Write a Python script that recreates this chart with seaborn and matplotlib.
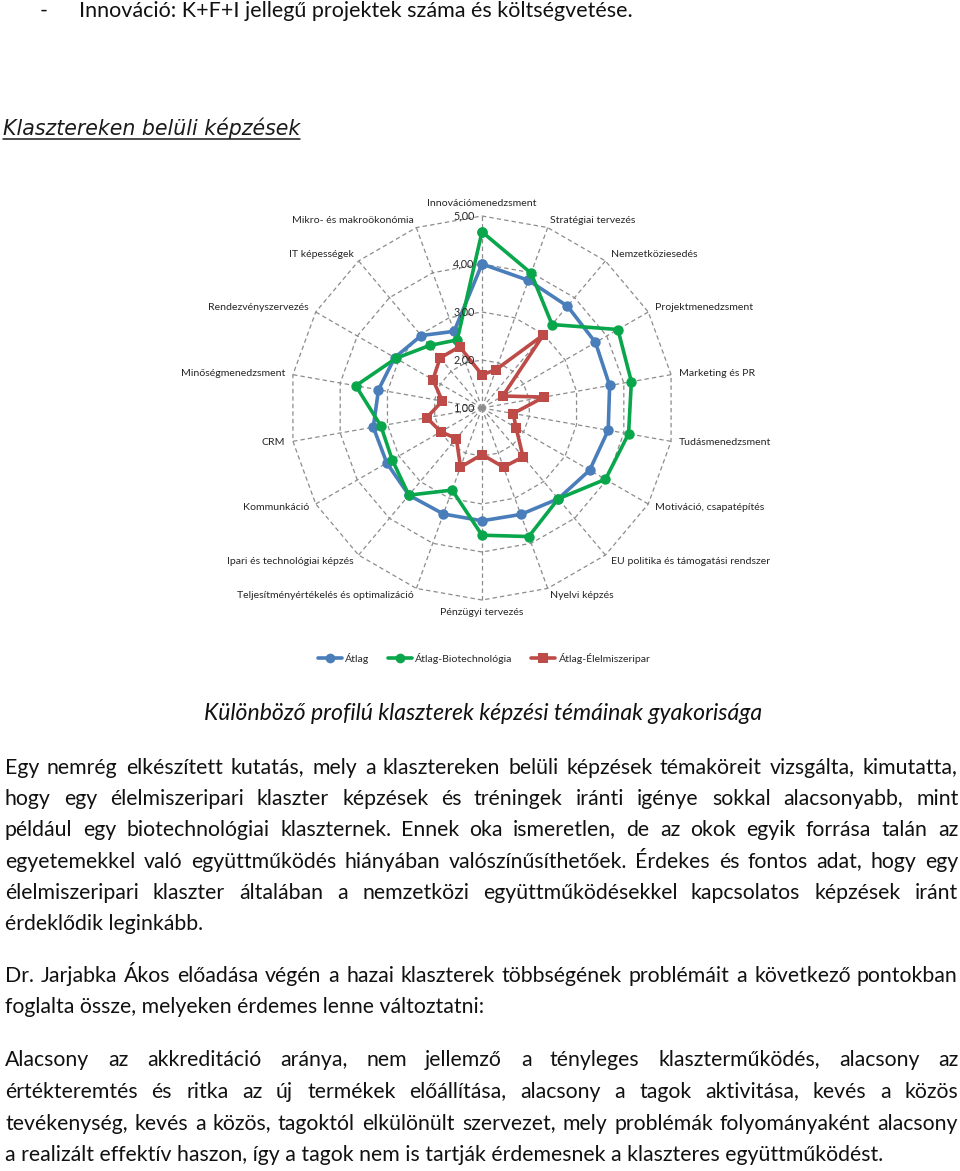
import math
import numpy as np
import pandas as pd
import matplotlib
matplotlib.use("Agg")
import matplotlib.pyplot as plt
import seaborn as sns
from matplotlib.font_manager import FontProperties
from matplotlib.lines import Line2D

try:
    from matplotlib.backends.backend_agg import get_hinting_flag
except Exception:  # pragma: no cover
    get_hinting_flag = None

sns.set_theme(style="white")
plt.rcParams["font.family"] = ["Lato", "DejaVu Sans"]

# ---------------- data ----------------
categories = [
    "Innovációmenedzsment", "Stratégiai tervezés", "Nemzetköziesedés",
    "Projektmenedzsment", "Marketing és PR", "Tudásmenedzsment",
    "Motiváció, csapatépítés", "EU politika és támogatási rendszer",
    "Nyelvi képzés", "Pénzügyi tervezés",
    "Teljesítményértékelés és optimalizáció", "Ipari és technológiai képzés",
    "Kommunkáció", "CRM", "Minőségmenedzsment", "Rendezvényszervezés",
    "IT képességek", "Mikro- és makroökonómia",
]
atlag = [4.00, 3.83, 3.77, 3.73, 3.70, 3.67, 3.59, 3.47, 3.36, 3.35,
         3.35, 3.37, 3.29, 3.30, 3.19, 3.10, 2.97, 2.70]
biotech = [4.67, 3.99, 3.27, 4.27, 4.16, 4.10, 3.97, 3.47, 3.85, 3.65,
           2.82, 3.37, 3.16, 3.14, 3.67, 3.07, 2.70, 2.51]
elelmiszer = [1.69, 1.85, 2.99, 1.50, 2.31, 1.66, 1.82, 2.33, 2.31, 1.97,
              2.31, 1.83, 1.99, 2.17, 1.84, 2.18, 2.36, 2.36]
series_names = ["Átlag", "Átlag-Biotechnológia", "Átlag-Élelmiszeripar"]
series_colors = ["#4A7EBB", "#0AA64C", "#BE4B48"]
series_markers = ["o", "o", "s"]
radial_ticks = [1, 2, 3, 4, 5]
radial_tick_labels = ["1,00", "2,00", "3,00", "4,00", "5,00"]

top_line = "Innováció: K+F+I jellegű projektek száma és költségvetése."
section_title = "Klasztereken belüli képzések"
caption = "Különböző profilú klaszterek képzési témáinak gyakorisága"
para1 = [
    "Egy nemrég elkészített kutatás, mely a klasztereken belüli képzések témaköreit vizsgálta, kimutatta,",
    "hogy egy élelmiszeripari klaszter képzések és tréningek iránti igénye sokkal alacsonyabb, mint",
    "például egy biotechnológiai klaszternek. Ennek oka ismeretlen, de az okok egyik forrása talán az",
    "egyetemekkel való együttműködés hiányában valószínűsíthetőek. Érdekes és fontos adat, hogy egy",
    "élelmiszeripari klaszter általában a nemzetközi együttműködésekkel kapcsolatos képzések iránt",
    "érdeklődik leginkább.",
]
para2 = [
    "Dr. Jarjabka Ákos előadása végén a hazai klaszterek többségének problémáit a következő pontokban",
    "foglalta össze, melyeken érdemes lenne változtatni:",
]
para3 = [
    "Alacsony az akkreditáció aránya, nem jellemző a tényleges klaszterműködés, alacsony az",
    "értékteremtés és ritka az új termékek előállítása, alacsony a tagok aktivitása, kevés a közös",
    "tevékenység, kevés a közös, tagoktól elkülönült szervezet, mely problémák folyományaként alacsony",
    "a realizált effektív haszon, így a tagok nem is tartják érdemesnek a klaszteres együttműködést.",
]

# ---------------- figure ----------------
W, H = 960, 1171
fig = plt.figure(figsize=(W / 100, H / 100), dpi=100)
fig.patch.set_facecolor("white")
renderer = fig.canvas.get_renderer()


def fx(x):
    return x / W


def fy(y):
    return 1 - y / H


body_fp = FontProperties(family=["Lato", "DejaVu Sans"])
ital_fp = FontProperties(family=["Lato", "DejaVu Sans"], style="italic")
title_fp = FontProperties(family=["DejaVu Sans"], style="italic")
small_fp = FontProperties(family=["Lato", "DejaVu Sans"])


def width_at(text, fp, size):
    t = fig.text(0, 0, text, fontproperties=fp, fontsize=size)
    w = t.get_window_extent(renderer).width
    t.remove()
    return w


def size_for_width(text, fp, target):
    return 10.0 * target / width_at(text, fp, 10.0)


def raster_baseline_error(textobj, yb):
    """Pixel error of the Agg raster baseline for this string (0 if unknown)."""
    if get_hinting_flag is None:
        return 0
    try:
        font = renderer._prepare_font(textobj.get_fontproperties())
        font.set_text(textobj.get_text(), 0, flags=get_hinting_flag())
        d_u = font.get_descent()
        _, h_u = font.get_width_height()
        ymax_u = h_u - d_u
        e = round(yb + d_u / 64.0) - yb - (h_u // 64) + math.floor(ymax_u / 64.0)
        return int(e) if abs(e) <= 3 else 0
    except Exception:
        return 0


X0, X1 = 5, 958
body_size = size_for_width(para3[-1], body_fp, 888)
justified = para1[:-1] + para2[:1] + para3[:-1]
maxw = max(width_at(s, body_fp, body_size) for s in justified)
if maxw > (X1 - X0) * 0.985:
    body_size *= (X1 - X0) * 0.985 / maxw

TXT = "#111111"


def put_line(text, y_base, justify=True, x0=X0, x1=X1):
    y_base = round(y_base)
    if not justify:
        fig.text(fx(x0), fy(y_base), text, fontproperties=body_fp,
                 fontsize=body_size, va="baseline", ha="left", color=TXT)
        return
    words = text.split()
    objs = [fig.text(0, fy(y_base), w, fontproperties=body_fp, fontsize=body_size,
                     va="baseline", ha="left", color=TXT) for w in words]
    widths = [o.get_window_extent(renderer).width for o in objs]
    gap = (x1 - x0 - sum(widths)) / (len(words) - 1)
    x = x0
    for o, w in zip(objs, widths):
        o.set_x(fx(round(x)))
        e = raster_baseline_error(o, y_base)
        o.set_y(fy(y_base - e))
        x += w + gap


# top line
fig.text(fx(40), fy(17), "-", fontproperties=body_fp, fontsize=body_size,
         va="baseline", ha="left", color=TXT)
top_size = size_for_width(top_line, body_fp, 553)
fig.text(fx(79), fy(17), top_line, fontproperties=body_fp, fontsize=top_size,
         va="baseline", ha="left", color=TXT)

# section title (underlined)
t_size = size_for_width(section_title, title_fp, 297)
tt = fig.text(fx(3), fy(135), section_title, fontproperties=title_fp,
              fontsize=t_size, va="baseline", ha="left", color="#1a1a1a")
bb = tt.get_window_extent(renderer)
fig.add_artist(Line2D([fx(bb.x0), fx(bb.x1)], [fy(138.8), fy(138.8)],
                      transform=fig.transFigure, color="#1a1a1a", lw=1.1))

# ---------------- radar chart ----------------
cx, cy, R = 482, 408, 192
ax = fig.add_axes([fx(cx - R), fy(cy + R), 2 * R / W, 2 * R / H], projection="polar")
ax.set_theta_zero_location("N")
ax.set_theta_direction(-1)
ax.set_ylim(radial_ticks[0], radial_ticks[-1])
ax.grid(False)
ax.spines["polar"].set_visible(False)
ax.set_xticks([])
ax.set_yticks([])
ax.patch.set_visible(False)

n = len(categories)
theta = np.arange(n) * 2 * np.pi / n
theta_c = np.append(theta, 2 * np.pi)
grid_kw = dict(color="#8c8c8c", lw=0.9, ls=(0, (3.5, 2.5)), clip_on=False, zorder=1)
for r in radial_ticks[1:]:
    ax.plot(theta_c, [r] * (n + 1), **grid_kw)
for th in theta:
    ax.plot([th, th], [radial_ticks[0], radial_ticks[-1]], **grid_kw)

df = pd.DataFrame({
    "theta": np.tile(theta_c, 3),
    "value": np.concatenate([atlag + atlag[:1], biotech + biotech[:1],
                             elelmiszer + elelmiszer[:1]]),
    "series": np.repeat(series_names, n + 1),
})
sns.lineplot(data=df, x="theta", y="value", hue="series", style="series",
             hue_order=series_names, style_order=series_names,
             palette=dict(zip(series_names, series_colors)),
             markers=dict(zip(series_names, series_markers)), dashes=False,
             sort=False, estimator=None, ax=ax, linewidth=2.6, markersize=7.5,
             markeredgewidth=0, legend=False, clip_on=False, zorder=3)
ax.set_xlabel("")
ax.set_ylabel("")

lab_size = size_for_width("Innovációmenedzsment", small_fp, 109)
tick_size = size_for_width("5,00", small_fp, 21)
LAB = "#262626"
for r, lab in zip(radial_ticks, radial_tick_labels):
    ax.annotate(lab, xy=(0, r), xytext=(-7.5, 0), textcoords="offset pixels",
                ha="right", va="center", fontproperties=small_fp,
                fontsize=tick_size, color=LAB, annotation_clip=False)

for th, lab in zip(theta, categories):
    s, c = np.sin(th), np.cos(th)
    off = 8.0
    if abs(s) < 0.1:
        ha = "center"
        va = "bottom" if c > 0 else "top"
    else:
        ha = "left" if s > 0 else "right"
        va = "center"
    ax.annotate(lab, xy=(th, radial_ticks[-1]), xytext=(off * s, off * c),
                textcoords="offset pixels", ha=ha, va=va,
                fontproperties=small_fp, fontsize=lab_size, color=LAB,
                annotation_clip=False)

leg_fp = FontProperties(family=["Lato", "DejaVu Sans"], size=lab_size)
handles = [Line2D([], [], color=c, marker=m, lw=2.6, ms=7, mew=0)
           for c, m in zip(series_colors, series_markers)]
fig.legend(handles, series_names, loc="center", bbox_to_anchor=(fx(484), fy(658)),
           ncol=3, frameon=False, prop=leg_fp,
           handlelength=2.3, handletextpad=0.3, columnspacing=1.8, numpoints=1,
           labelcolor=LAB)

# ---------------- caption & body text ----------------
cap_size = size_for_width(caption, ital_fp, 559)
fig.text(fx(483), fy(720), caption, fontproperties=ital_fp, fontsize=cap_size,
         va="baseline", ha="center", color=TXT)

for i, line in enumerate(para1):
    put_line(line, 773.5 + 31.4 * i, justify=(i < len(para1) - 1))
for i, line in enumerate(para2):
    put_line(line, 981.5 + 31.4 * i, justify=(i < len(para2) - 1))
for i, line in enumerate(para3):
    put_line(line, 1066.5 + 31.5 * i, justify=(i < len(para3) - 1))

fig.savefig("out.png", dpi=100, facecolor="white")
